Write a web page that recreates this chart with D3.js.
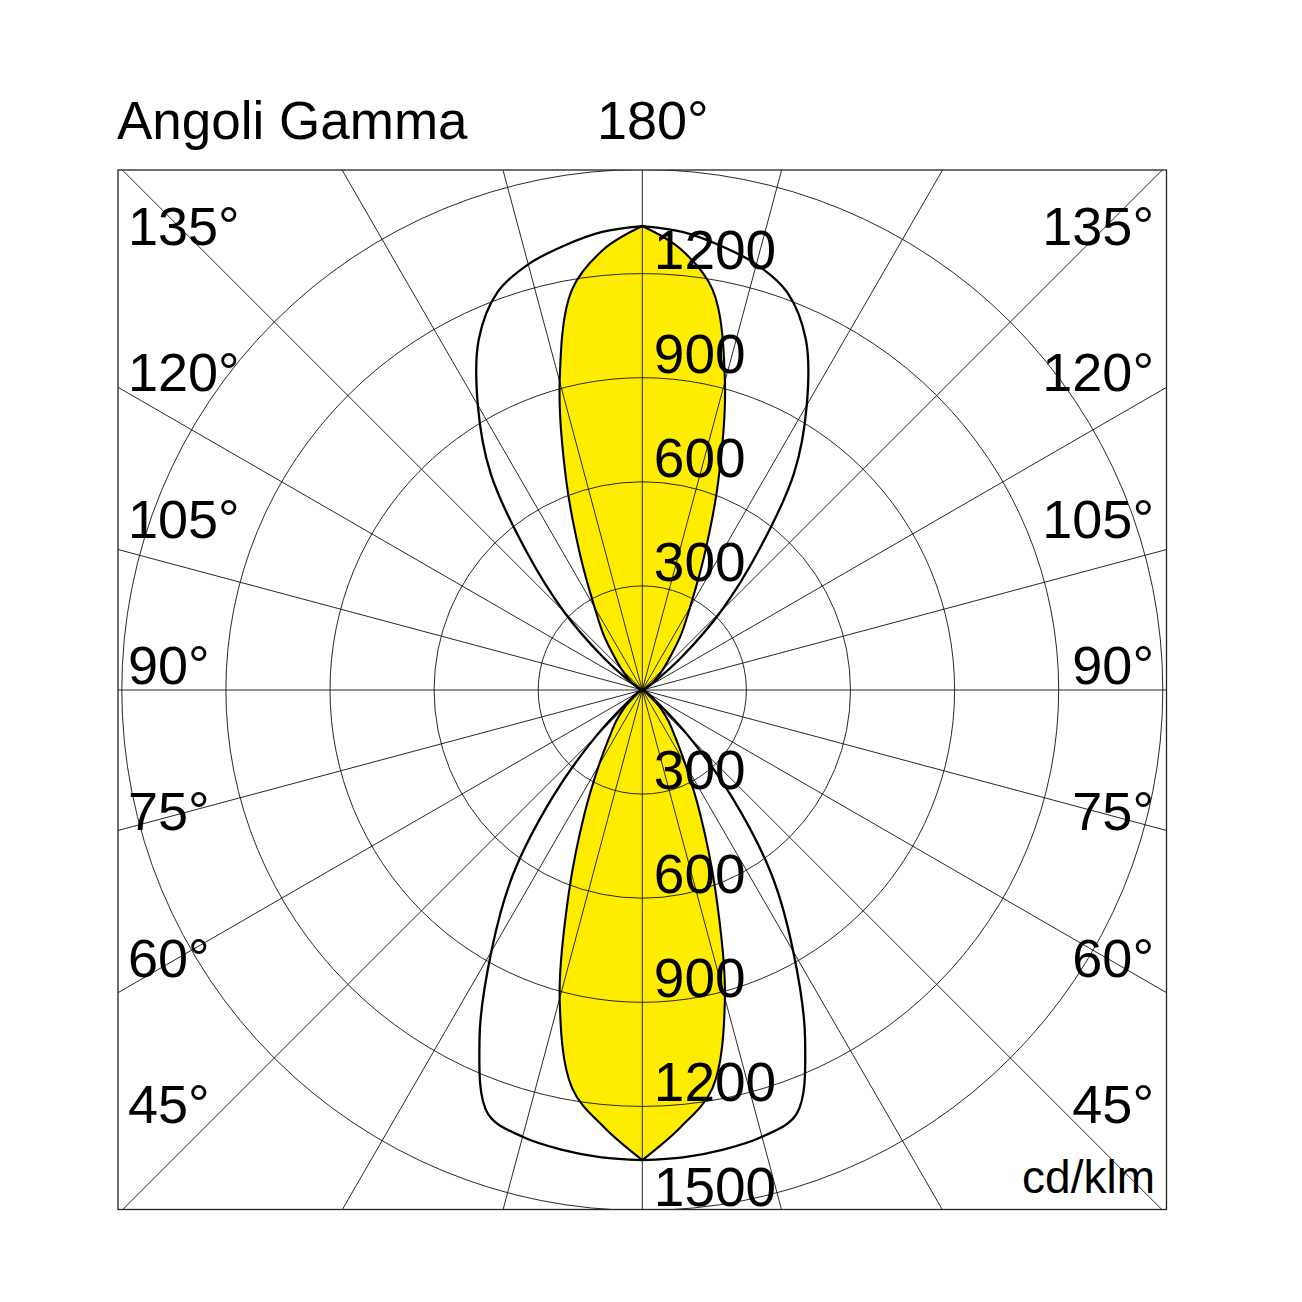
<!DOCTYPE html>
<html>
<head>
<meta charset="utf-8">
<script src="https://cdn.jsdelivr.net/npm/d3@7"></script>
<style>
  html, body { margin: 0; padding: 0; background: #fff; }
  svg { display: block; }
  text { font-family: "Liberation Sans", Arial, Helvetica, sans-serif; fill: #000; }
</style>
</head>
<body>
<svg id="chart" width="1302" height="1302"></svg>
<script>
// ---- Data ----
const gammaAngles = [0,5,10,15,20,25,30,35,40,45,50,55,60,65,70,75,80,85,90,
                     95,100,105,110,115,120,125,130,135,140,145,150,155,160,165,170,175,180];
// C0-C180 plane (yellow, filled), cd/klm
const planeC0 = [1355,1265,1165,920,617,395,250,165,117,75,45,28,18,10,6,4,2,1,0,
                 1,2,4,7,12,20,35,55,85,125,195,275,418,640,920,1170,1275,1337];
// C90-C270 plane (black outline), cd/klm
const planeC90 = [1355,1352,1345,1333,1300,1110,870,650,400,190,60,20,8,4,2,1,1,0,0,
                  0,1,2,4,8,15,50,150,320,517,762,948,1115,1220,1270,1300,1325,1337];
const ringValues = [300,600,900,1200,1500];
const topRingLabels = ["1200","900","600","300"];
const bottomRingLabels = ["300","600","900","1200","1500"];
const leftAngleLabels = ["135°","120°","105°","90°","75°","60°","45°"];
const rightAngleLabels = ["135°","120°","105°","90°","75°","60°","45°"];
const gridAngles = [0,15,30,45,60,75,90,105,120,135,150,165,180,195,210,225,240,255,270,285,300,315,330,345];
const titleText = "Angoli Gamma";
const topAngleText = "180°";
const unitText = "cd/klm";

// ---- Layout ----
const svg = d3.select("#chart");
const cx = 642.3, cy = 690;
const frame = {x0: 118, y0: 170, x1: 1166.5, y1: 1209.5};
const r = d3.scaleLinear().domain([0, 1500]).range([0, 520.5]);
const rad = d3.scaleLinear().domain([0, 180]).range([0, Math.PI]);

svg.append("rect").attr("width", 1302).attr("height", 1302).attr("fill", "#fff");

const defs = svg.append("defs");
defs.append("clipPath").attr("id", "frameClip")
  .append("rect")
  .attr("x", frame.x0).attr("y", frame.y0)
  .attr("width", frame.x1 - frame.x0).attr("height", frame.y1 - frame.y0);

// point helper: gamma 0 = down, 180 = up; side +1 right, -1 left
function pt(g, v, side) {
  const a = rad(g);
  return [cx + side * r(v) * Math.sin(a), cy + r(v) * Math.cos(a)];
}
const line = d3.line().curve(d3.curveCatmullRom.alpha(0.5));

function planePath(values) {
  const right = gammaAngles.map((g, i) => pt(g, values[i], 1));
  const left = gammaAngles.map((g, i) => pt(g, values[i], -1));
  return line(right) + line(left);
}

// Yellow fill
svg.append("path")
  .attr("d", planePath(planeC0))
  .attr("fill", "#FFED00")
  .attr("stroke", "none");

// Grid
const grid = svg.append("g").attr("clip-path", "url(#frameClip)");
grid.selectAll("circle.ring").data(ringValues).join("circle")
  .attr("cx", cx).attr("cy", cy).attr("r", d => r(d))
  .attr("fill", "none").attr("stroke", "#111").attr("stroke-width", 0.9);
grid.selectAll("line.spoke").data(gridAngles).join("line")
  .attr("x1", cx).attr("y1", cy)
  .attr("x2", d => cx + 900 * Math.sin(rad(d)))
  .attr("y2", d => cy + 900 * Math.cos(rad(d)))
  .attr("stroke", "#111").attr("stroke-width", 0.9);

// Frame
svg.append("rect")
  .attr("x", frame.x0).attr("y", frame.y0)
  .attr("width", frame.x1 - frame.x0).attr("height", frame.y1 - frame.y0)
  .attr("fill", "none").attr("stroke", "#222").attr("stroke-width", 1.3);

// Curve outlines
svg.append("path")
  .attr("d", planePath(planeC0))
  .attr("fill", "none").attr("stroke", "#000").attr("stroke-width", 2.1)
  .attr("stroke-linejoin", "round");
svg.append("path")
  .attr("d", planePath(planeC90))
  .attr("fill", "none").attr("stroke", "#000").attr("stroke-width", 2.3)
  .attr("stroke-linejoin", "round");

// Ring labels
const ringFont = 55;
svg.selectAll("text.top").data(topRingLabels).join("text")
  .attr("x", cx + 11.5)
  .attr("y", d => cy - r(+d) - 5)
  .attr("font-size", ringFont)
  .text(d => d);
svg.selectAll("text.bottom").data(bottomRingLabels).join("text")
  .attr("x", cx + 11.5)
  .attr("y", d => cy + r(+d) - 5)
  .attr("font-size", ringFont)
  .text(d => d);

// Angle labels
const labelY = d3.scaleLinear().domain([0, 6]).range([245, 1123]);
svg.selectAll("text.la").data(leftAngleLabels).join("text")
  .attr("x", 128).attr("y", (d, i) => labelY(i))
  .attr("font-size", 54).text(d => d);
svg.selectAll("text.ra").data(rightAngleLabels).join("text")
  .attr("x", 1154).attr("y", (d, i) => labelY(i))
  .attr("text-anchor", "end")
  .attr("font-size", 54).text(d => d);

// Title and top angle
svg.append("text").attr("x", 117).attr("y", 139).attr("font-size", 53).text(titleText);
svg.append("text").attr("x", 597).attr("y", 139).attr("font-size", 54).text(topAngleText);
svg.append("text").attr("x", 1155).attr("y", 1193).attr("text-anchor", "end")
  .attr("font-size", 46).text(unitText);
</script>
</body>
</html>
